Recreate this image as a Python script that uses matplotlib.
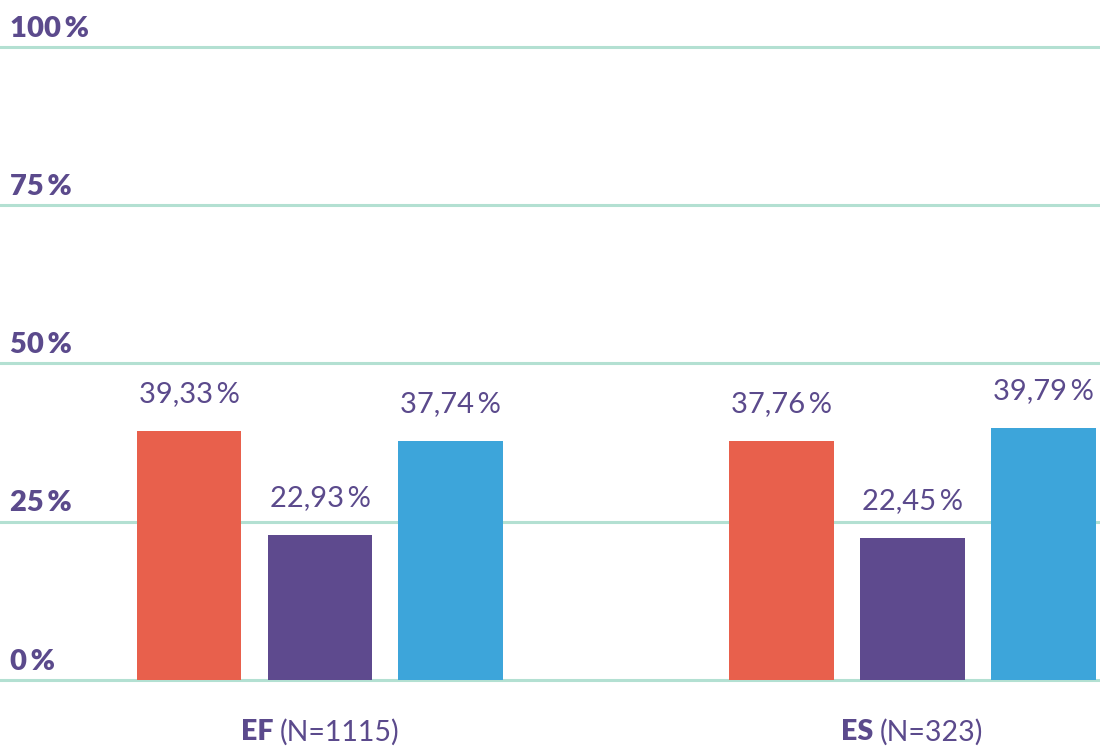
import numpy as np
import matplotlib.pyplot as plt

groups = ["EF", "ES"]
group_n = ["(N=1115)", "(N=323)"]
rouge = [39.33, 37.76]
violet = [22.93, 22.45]
bleu = [37.74, 39.79]
yticks = [0, 25, 50, 75, 100]

txt = "#5b4a8c"
colors = ["#e8604c", "#5e4a8e", "#3da5da"]
plt.rcParams['font.family'] = ['Lato', 'DejaVu Sans']

fig = plt.figure(figsize=(11, 7.48), dpi=100)
ax = fig.add_axes([0, 68 / 748, 1, 633 / 748])

x = np.arange(len(groups))
off = 0.221
w = 0.177
for i, vals in enumerate([rouge, violet, bleu]):
    bars = ax.bar(x + (i - 1) * off, vals, w, color=colors[i], zorder=3)
    for b, v in zip(bars, vals):
        lab = f"{v:.2f}".replace(".", ",") + "\u2009%"
        ax.annotate(lab, (b.get_x() + b.get_width() / 2, v), xytext=(0, 17),
                    textcoords="offset points", ha="center", va="bottom",
                    fontsize=21, color=txt, fontweight="normal")

for t in yticks:
    ax.axhline(t, color="#b3e0d2", lw=2.2, zorder=1, clip_on=False)
    ax.annotate(f"{t}\u2009%", (0, t), xycoords=("axes fraction", "data"),
                xytext=(7, 7.5), textcoords="offset points", ha="left", va="baseline",
                fontsize=21, fontweight="heavy", color=txt)

# category labels: bold code + normal N, centred together
fig.canvas.draw()
r = fig.canvas.get_renderer()
for xi, g, n in zip(x, groups, group_n):
    t1 = ax.annotate(g + " ", (xi, 0), xytext=(0, -37), textcoords="offset points",
                     ha="left", va="center", fontsize=20.5, fontweight="heavy", color=txt)
    t2 = ax.annotate(n, (xi, 0), xytext=(0, -37), textcoords="offset points",
                     ha="left", va="center", fontsize=20.5, color=txt)
    w1 = t1.get_window_extent(r).width * 72 / fig.dpi
    w2 = t2.get_window_extent(r).width * 72 / fig.dpi
    t1.set_position((-(w1 + w2) / 2, -37.5))
    t2.set_position((-(w1 + w2) / 2 + w1, -37.5))

ax.set_xlim(-0.540, 1.3165)
ax.set_ylim(0, 100)
ax.axis("off")

fig.savefig("out.png", dpi=100)
